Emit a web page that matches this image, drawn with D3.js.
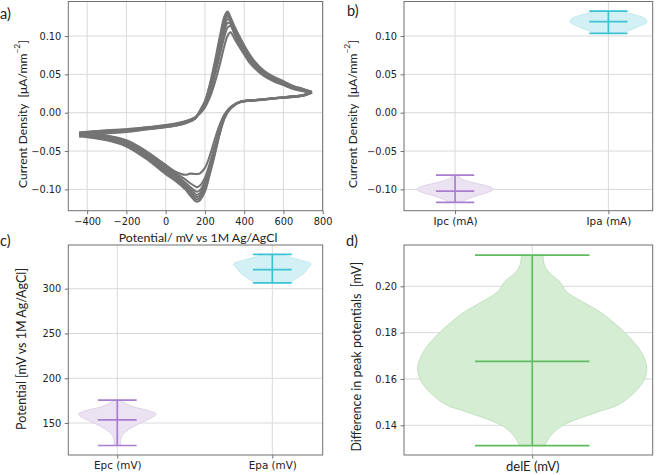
<!DOCTYPE html>
<html><head><meta charset="utf-8">
<script src="https://cdn.jsdelivr.net/npm/d3@7"></script>
<style>body{margin:0;background:#fff}svg{display:block}text{white-space:pre}</style>
</head><body>
<svg id="c" width="661" height="475"></svg>
<script>
// ---------------- DATA ----------------
// Panel a: cyclic voltammograms (potential mV, current density µA/mm²)
const sweepPotentialFwd = [-440,-400,-300,-200,-100,0,50,100,150,175,200,225,250,275,300,315,330,350,375,400,425,450,500,550,600,650,700,745];
const sweepPotentialRev = [745,700,650,600,550,500,450,400,375,350,325,300,275,250,225,200,175,160,150,125,100,50,0,-100,-200,-300,-400,-440];

const cycle1Fwd = [-0.026,-0.025,-0.023,-0.0215,-0.019,-0.016,-0.014,-0.011,-0.006,-0.001,0.007,0.020,0.039,0.062,0.088,0.100,0.105,0.097,0.086,0.076,0.066,0.059,0.048,0.041,0.036,0.031,0.028,0.026];
const cycle2Fwd = [-0.027,-0.0255,-0.0235,-0.022,-0.0195,-0.0165,-0.0145,-0.0115,-0.006,0.000,0.010,0.026,0.048,0.074,0.100,0.111,0.113,0.103,0.088,0.078,0.068,0.0605,0.049,0.042,0.0365,0.0317,0.0285,0.0262];
const cycle3Fwd = [-0.0275,-0.026,-0.024,-0.0225,-0.020,-0.017,-0.015,-0.012,-0.0065,0.001,0.011,0.029,0.053,0.081,0.108,0.117,0.116,0.105,0.090,0.080,0.070,0.062,0.050,0.043,0.037,0.0323,0.029,0.0264];
const cycle4Fwd = [-0.028,-0.0265,-0.0245,-0.023,-0.0205,-0.0175,-0.0155,-0.0125,-0.007,0.001,0.012,0.031,0.057,0.086,0.113,0.122,0.119,0.107,0.092,0.082,0.072,0.0635,0.051,0.044,0.038,0.033,0.0295,0.0266];
const cycle5Fwd = [-0.029,-0.027,-0.025,-0.0235,-0.021,-0.018,-0.016,-0.013,-0.0073,0.002,0.013,0.033,0.060,0.090,0.118,0.126,0.121,0.109,0.095,0.084,0.074,0.065,0.0525,0.045,0.039,0.0337,0.030,0.0268];
const cycle6Fwd = [-0.030,-0.028,-0.026,-0.024,-0.0215,-0.0185,-0.0165,-0.0135,-0.0076,0.002,0.014,0.035,0.063,0.094,0.122,0.129,0.123,0.111,0.097,0.086,0.0755,0.0665,0.054,0.046,0.040,0.0343,0.0305,0.027];
const cycle7Fwd = [-0.031,-0.029,-0.027,-0.025,-0.022,-0.019,-0.017,-0.014,-0.008,0.003,0.015,0.037,0.066,0.098,0.126,0.132,0.125,0.113,0.100,0.088,0.077,0.068,0.055,0.047,0.041,0.035,0.031,0.0272];

const cycle1Rev = [0.026,0.0225,0.0215,0.020,0.019,0.0175,0.0165,0.0155,0.014,0.011,0.006,-0.002,-0.016,-0.035,-0.056,-0.072,-0.079,-0.080,-0.080,-0.0795,-0.081,-0.077,-0.068,-0.050,-0.036,-0.030,-0.027,-0.026];
const cycle2Rev = [0.0262,0.022,0.0205,0.0195,0.0185,0.017,0.016,0.0148,0.0133,0.0098,0.004,-0.005,-0.022,-0.044,-0.066,-0.085,-0.095,-0.097,-0.096,-0.092,-0.087,-0.079,-0.070,-0.051,-0.037,-0.030,-0.027,-0.026];
const cycle3Rev = [0.0264,0.0222,0.0207,0.0196,0.0186,0.0171,0.0161,0.0149,0.0134,0.0099,0.004,-0.005,-0.024,-0.047,-0.070,-0.090,-0.101,-0.103,-0.102,-0.097,-0.091,-0.081,-0.072,-0.053,-0.039,-0.0315,-0.028,-0.027];
const cycle4Rev = [0.0266,0.0224,0.0209,0.0197,0.0187,0.0172,0.0162,0.015,0.0135,0.010,0.0042,-0.006,-0.025,-0.049,-0.073,-0.094,-0.105,-0.107,-0.106,-0.100,-0.094,-0.083,-0.074,-0.055,-0.040,-0.033,-0.029,-0.028];
const cycle5Rev = [0.0268,0.0226,0.0211,0.0198,0.0188,0.0173,0.0163,0.0151,0.0136,0.0101,0.0043,-0.006,-0.026,-0.051,-0.076,-0.097,-0.108,-0.110,-0.109,-0.103,-0.096,-0.085,-0.076,-0.056,-0.041,-0.034,-0.030,-0.029];
const cycle6Rev = [0.027,0.0228,0.0213,0.0199,0.0189,0.0174,0.0164,0.0152,0.0137,0.0102,0.0044,-0.007,-0.027,-0.053,-0.078,-0.100,-0.111,-0.113,-0.112,-0.105,-0.098,-0.087,-0.078,-0.058,-0.043,-0.035,-0.031,-0.030];
const cycle7Rev = [0.0272,0.023,0.0215,0.020,0.019,0.0175,0.0165,0.0152,0.0138,0.0103,0.0045,-0.007,-0.028,-0.055,-0.080,-0.103,-0.114,-0.116,-0.115,-0.108,-0.100,-0.089,-0.080,-0.060,-0.044,-0.036,-0.032,-0.031];

const cvXTicks = [-400,-200,0,200,400,600,800];
const currentYTicks = [-0.10,-0.05,0.00,0.05,0.10];

// Panel b: peak currents
const currentCategories = ["Ipc (mA)","Ipa (mA)"];
const currentMin  = [-0.117, 0.1035];
const currentMax  = [-0.0813, 0.1326];
const currentMean = [-0.1022, 0.1187];
const ipcShapeValue = [-0.0813,-0.085,-0.088,-0.091,-0.094,-0.097,-0.100,-0.104,-0.108,-0.112,-0.115,-0.117];
const ipcShapeWidth = [0.07,0.12,0.25,0.45,0.72,0.92,1.0,0.85,0.58,0.35,0.22,0.17];
const ipaShapeValue = [0.1326,0.131,0.1274,0.123,0.1183,0.1122,0.1057,0.1035];
const ipaShapeWidth = [0.33,0.42,0.70,0.95,1.0,0.78,0.45,0.35];

// Panel c: peak potentials
const potentialCategories = ["Epc (mV)","Epa (mV)"];
const potentialMin  = [124.9, 306.5];
const potentialMax  = [175.6, 338.3];
const potentialMean = [153.5, 321.2];
const potentialYTicks = [150,200,250,300];
const epcShapeValue = [175.6,172,168,164.5,160,155,150,144,138.5,133,124.9];
const epcShapeWidth = [0.09,0.21,0.42,0.76,1.0,0.85,0.60,0.34,0.17,0.09,0.085];
const epaShapeValue = [338.3,336,332,327.5,323,317.5,312,306.5];
const epaShapeWidth = [0.30,0.40,0.72,1.0,0.92,0.82,0.64,0.45];

// Panel d: difference in peak potentials
const delECategories = ["delE (mV)"];
const delEMin  = [0.1312];
const delEMax  = [0.2135];
const delEMean = [0.1676];
const delEYTicks = [0.14,0.16,0.18,0.20];
const delEShapeValue = [0.2135,0.2105,0.2078,0.2049,0.2020,0.1977,0.1930,0.1890,0.1840,0.1790,0.1718,0.1653,0.1600,0.1545,0.1488,0.1459,0.1400,0.1355,0.1312];
const delEShapeWidth = [0.095,0.10,0.12,0.17,0.24,0.30,0.45,0.59,0.72,0.83,0.95,1.0,0.98,0.90,0.75,0.58,0.27,0.16,0.11];

// ---------------- DRAWING ----------------
const svg = d3.select("#c");
const TICKFONT = "DejaVu Sans", LABELFONT = "Lato";
const GRID = "#d9d9d9", FRAME = "#707070", TXT = "#222";

function makePanel(o){
  const g = svg.append("g");
  const gridG = g.append("g"), dataG = g.append("g"), axG = g.append("g");
  const {x, y} = o;
  gridG.selectAll("line.v").data(o.xTicks).join("line")
    .attr("x1", d=>x(d)).attr("x2", d=>x(d)).attr("y1", o.top).attr("y2", o.bottom)
    .attr("stroke", GRID).attr("stroke-width", 1);
  gridG.selectAll("line.h").data(o.yTicks).join("line")
    .attr("y1", d=>y(d)).attr("y2", d=>y(d)).attr("x1", o.left).attr("x2", o.right)
    .attr("stroke", GRID).attr("stroke-width", 1);
  o.finish = () => {
    axG.append("rect").attr("x", o.left).attr("y", o.top)
      .attr("width", o.right-o.left).attr("height", o.bottom-o.top)
      .attr("fill","none").attr("stroke", FRAME).attr("stroke-width", 1);
    const xa = axG.append("g").attr("transform", `translate(0,${o.bottom})`)
      .call(d3.axisBottom(x).tickValues(o.xTicks).tickFormat(o.xFormat).tickSizeInner(3.5).tickSizeOuter(0).tickPadding(3.5));
    const ya = axG.append("g").attr("transform", `translate(${o.left},0)`)
      .call(d3.axisLeft(y).tickValues(o.yTicks).tickFormat(o.yFormat).tickSizeInner(3.5).tickSizeOuter(0).tickPadding(3.5));
    [xa, ya].forEach(a => {
      a.select(".domain").remove();
      a.selectAll(".tick line").attr("stroke", FRAME);
      a.selectAll("text").attr("fill", TXT).attr("font-family", TICKFONT).attr("font-size", 9.8);
    });
    if (o.xTickFont) xa.selectAll("text").attr("font-family", o.xTickFont).attr("font-size", o.xTickSize);
  };
  o.data = dataG;
  return o;
}

function fitText(sel, target){
  const w = sel.node().getComputedTextLength();
  const fs = parseFloat(sel.attr("font-size"));
  sel.attr("font-size", fs * target / w);
}

function yLabel(cx, cy, len, parts){
  const t = svg.append("text").attr("transform", `translate(${cx},${cy}) rotate(-90)`)
    .attr("text-anchor","middle").attr("dominant-baseline","central")
    .attr("font-family", LABELFONT).attr("font-size", 12).attr("fill", TXT);
  parts(t);
  fitText(t, len);
  return t;
}

function currentLabel(t){
  t.append("tspan").text("Current Density  [μA/mm");
  t.append("tspan").attr("font-size","0.7em").attr("dy","-0.5em").text("−2");
  t.append("tspan").attr("dy","0.35em").text("]");
}

function panelLetter(x, y, s){
  svg.append("text").attr("x", x).attr("y", y).text(s)
    .attr("font-family", LABELFONT).attr("font-size", 14.5).attr("fill", TXT);
}

function violin(p, pos, vals, widths, vmin, vmax, vmean, fill, edge, line, capHalf){
  const {x, y} = p;
  const pts = d3.zip(vals, widths);
  const area = d3.area().curve(d3.curveCatmullRom.alpha(0.5))
    .y(d => y(d[0])).x0(d => x(pos - 0.25*d[1])).x1(d => x(pos + 0.25*d[1]));
  p.data.append("path").attr("d", area(pts)).attr("fill", fill).attr("stroke", edge).attr("stroke-width", 0.8);
  const L = p.data.append("g").attr("stroke", line).attr("stroke-width", 1.7);
  L.append("line").attr("x1", x(pos)).attr("x2", x(pos)).attr("y1", y(vmin)).attr("y2", y(vmax));
  [vmin, vmax, vmean].forEach(v => {
    L.append("line").attr("x1", x(pos-capHalf)).attr("x2", x(pos+capHalf)).attr("y1", y(v)).attr("y2", y(v));
  });
}

const fmt2 = d3.format(".2f");

// ---- Panel a ----
const pa = makePanel({
  left: 68.3, right: 322.7, top: 1.5, bottom: 210.7,
  x: d3.scaleLinear().domain([-496, 800]).range([68.3, 322.7]),
  y: d3.scaleLinear().domain([-0.1278, 0.1457]).range([210.7, 1]),
  xTicks: cvXTicks, yTicks: currentYTicks, xFormat: d3.format("d"), yFormat: fmt2
});
const cvCycles = [
  [cycle1Fwd, cycle1Rev],[cycle2Fwd, cycle2Rev],[cycle3Fwd, cycle3Rev],[cycle4Fwd, cycle4Rev],
  [cycle5Fwd, cycle5Rev],[cycle6Fwd, cycle6Rev],[cycle7Fwd, cycle7Rev]
];
const cvLine = d3.line().curve(d3.curveCatmullRom.alpha(0.5)).x(d => pa.x(d[0])).y(d => pa.y(d[1]));
cvCycles.forEach(([f, r]) => {
  [[sweepPotentialFwd, f], [sweepPotentialRev, r]].forEach(([e, i]) => {
    pa.data.append("path").attr("d", cvLine(d3.zip(e, i)))
      .attr("fill","none").attr("stroke","#747474").attr("stroke-width",2.1).attr("stroke-linejoin","round");
  });
});
pa.finish();

// ---- Panel b ----
const pb = makePanel({
  left: 404, right: 652.7, top: 1.5, bottom: 210.7,
  x: d3.scaleLinear().domain([0.667, 2.289]).range([404, 652.7]),
  y: d3.scaleLinear().domain([-0.1278, 0.1457]).range([210.7, 1]),
  xTicks: [1,2], yTicks: currentYTicks, xFormat: (d,i) => currentCategories[i], yFormat: fmt2,
  xTickFont: TICKFONT, xTickSize: 10.4
});
violin(pb, 1, ipcShapeValue, ipcShapeWidth, currentMin[0], currentMax[0], currentMean[0], "#ebe2f2", "#d8c9e6", "#a97ed1", 0.125);
violin(pb, 2, ipaShapeValue, ipaShapeWidth, currentMin[1], currentMax[1], currentMean[1], "#d3f1f5", "#b5e5eb", "#3cc3d3", 0.125);
pb.finish();

// ---- Panel c ----
const pc = makePanel({
  left: 68.3, right: 322.7, top: 245, bottom: 455,
  x: d3.scaleLinear().domain([0.684, 2.325]).range([68.3, 322.7]),
  y: d3.scaleLinear().domain([114.3, 348.8]).range([455, 245]),
  xTicks: [1,2], yTicks: potentialYTicks, xFormat: (d,i) => potentialCategories[i], yFormat: d3.format("d"),
  xTickFont: TICKFONT, xTickSize: 10.4
});
violin(pc, 1, epcShapeValue, epcShapeWidth, potentialMin[0], potentialMax[0], potentialMean[0], "#ebe2f2", "#d8c9e6", "#a97ed1", 0.125);
violin(pc, 2, epaShapeValue, epaShapeWidth, potentialMin[1], potentialMax[1], potentialMean[1], "#d3f1f5", "#b5e5eb", "#3cc3d3", 0.125);
pc.finish();

// ---- Panel d ----
const pd = makePanel({
  left: 404, right: 652.7, top: 245, bottom: 455,
  x: d3.scaleLinear().domain([0.72, 1.263]).range([404, 652.7]),
  y: d3.scaleLinear().domain([0.12718, 0.21783]).range([455, 245]),
  xTicks: [1], yTicks: delEYTicks, xFormat: (d,i) => delECategories[i], yFormat: fmt2,
  xTickFont: LABELFONT, xTickSize: 13
});
violin(pd, 1, delEShapeValue, delEShapeWidth, delEMin[0], delEMax[0], delEMean[0], "#d5edd3", "#b9dcb7", "#62bb62", 0.125);
pd.finish();

// ---- Labels ----
yLabel(21.7, 114, 148, currentLabel);
yLabel(351.7, 114, 148, currentLabel);
yLabel(21.7, 349, 162, t => t.text("Potential [mV vs 1M Ag/AgCl]"));
yLabel(356.7, 356.7, 190, t => t.text("Difference in peak potentials  [mV]"));

const xl = svg.append("text").attr("x", 198).attr("y", 237.7).attr("text-anchor","middle")
  .attr("dominant-baseline","central").attr("font-family", LABELFONT).attr("font-size", 12)
  .attr("fill", TXT).text("Potential/ mV vs 1M Ag/AgCl");
fitText(xl, 158.7);

panelLetter(0, 19, "a)");
panelLetter(347, 16, "b)");
panelLetter(0, 246, "c)");
panelLetter(346, 246, "d)");
</script>
</body></html>
